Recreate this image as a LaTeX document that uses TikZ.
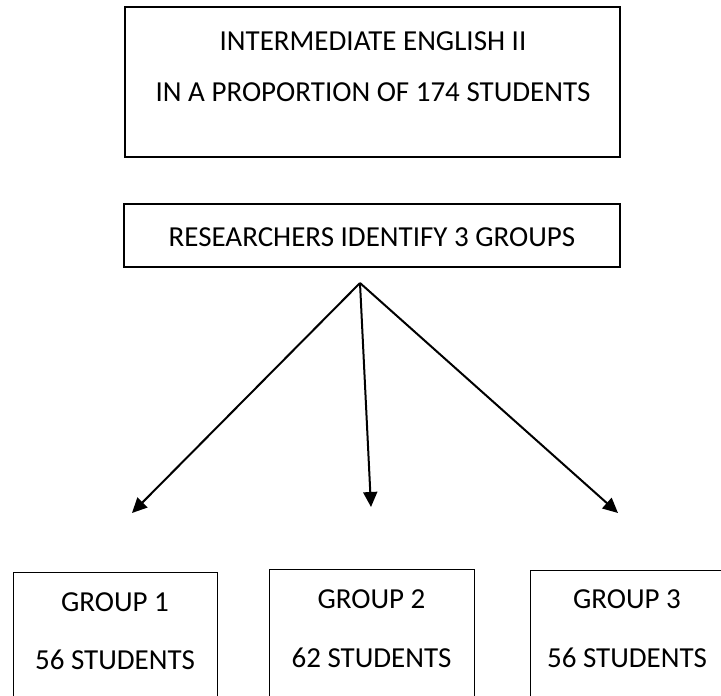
\documentclass[tikz,border=0pt]{standalone}
\usepackage{fontspec}
\setmainfont{Carlito}
\usetikzlibrary{arrows.meta}
\begin{document}
\begin{tikzpicture}[x=1pt,y=-1pt,
  box/.style={draw=black,line width=1.2pt,inner sep=0pt,fill=none},
  txt/.style={font=\fontsize{29}{32}\selectfont,inner sep=0pt,anchor=center},
  arr/.style={line width=2pt,-{Triangle[length=15pt,width=14pt]}}]
\useasboundingbox (0,0) rectangle (721,696);
\clip (0,0) rectangle (721,696);
% top box
\node[box,minimum width=495pt,minimum height=150pt] (top) at (372.5,82) {};
\node[txt] (t1) at (373,41) {INTERMEDIATE ENGLISH II};
\node[txt] (t2) at (373,92) {IN A PROPORTION OF 174 STUDENTS};
% second box
\node[box,minimum width=496pt,minimum height=63pt] (res) at (372,235.5) {};
\node[txt] (r1) at (372,237) {RESEARCHERS IDENTIFY 3 GROUPS};
% arrows
\coordinate (fork) at (360,283);
\coordinate (e1) at (132,513);
\coordinate (e2) at (371,507);
\coordinate (e3) at (618,513);
\draw[arr] (fork) -- (e1);
\draw[arr] (fork) -- (e2);
\draw[arr] (fork) -- (e3);
% bottom boxes
\node[box,minimum width=204pt,minimum height=160pt,anchor=north west] (g1) at (13,572) {};
\node[box,minimum width=205pt,minimum height=160pt,anchor=north west] (g2) at (269,569) {};
\node[box,minimum width=200pt,minimum height=160pt,anchor=north west] (g3) at (530,570) {};
\node[txt] (g1a) at (115,602) {GROUP 1};
\node[txt] (g1b) at (115,660) {56 STUDENTS};
\node[txt] (g2a) at (371.5,599) {GROUP 2};
\node[txt] (g2b) at (371.5,658) {62 STUDENTS};
\node[txt] (g3a) at (627,599) {GROUP 3};
\node[txt] (g3b) at (627,658) {56 STUDENTS};
\end{tikzpicture}
\end{document}
